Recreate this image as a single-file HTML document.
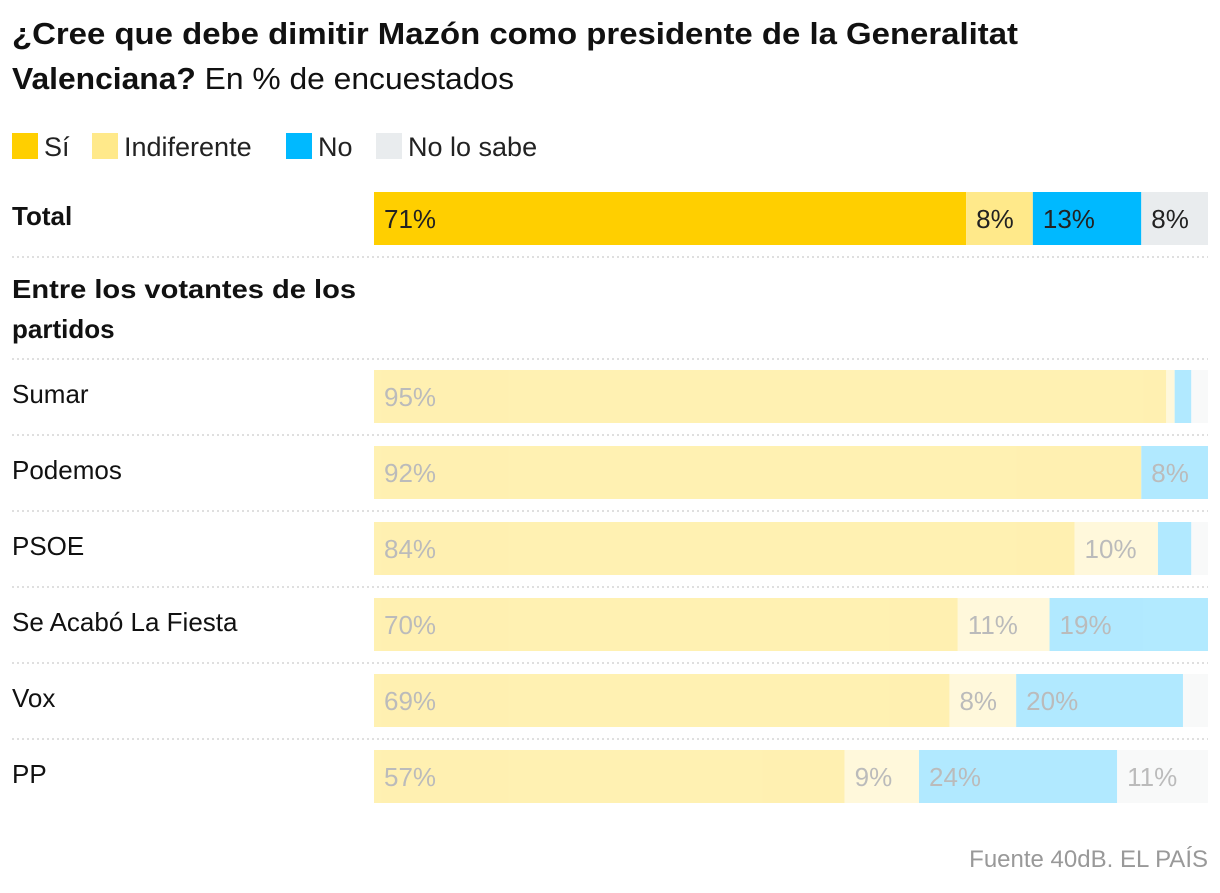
<!DOCTYPE html>
<html><head><meta charset="utf-8"><style>
body{margin:0;background:#fff;font-family:"Liberation Sans",sans-serif;color:#111;}
svg text{font-family:"Liberation Sans",sans-serif;}
</style></head><body>
<svg id="chart" width="1220" height="888" xmlns="http://www.w3.org/2000/svg">
<text x="12" y="44" font-size="31" font-weight="bold" fill="#111" textLength="1006" lengthAdjust="spacingAndGlyphs">¿Cree que debe dimitir Mazón como presidente de la Generalitat</text>
<text x="12" y="89" font-size="31" fill="#111" textLength="502" lengthAdjust="spacingAndGlyphs"><tspan font-weight="bold">Valenciana?</tspan> En % de encuestados</text>
<g id="legend"></g>
<g id="rows"></g>
<text x="1208" y="867" font-size="24" fill="#999" text-anchor="end">Fuente 40dB. EL PAÍS</text>
</svg>
<script>
const seriesNames=["Sí","Indiferente","No","No lo sabe"];
const colors=["#ffcf00","#ffe98a","#00b9ff","#e9ecee"];
const categories=["Total","Sumar","Podemos","PSOE","Se Acabó La Fiesta","Vox","PP"];
const si=[71,95,92,84,70,69,57];
const indif=[8,1,0,10,11,8,9];
const no=[13,2,8,4,19,20,24];
const nosabe=[8,2,0,2,0,3,11];
const rowY=[192,370,446,522,598,674,750];
const NS="http://www.w3.org/2000/svg";
const svg=document.getElementById('chart');
const leg=document.getElementById('legend');
const rows=document.getElementById('rows');
function mk(tag,attrs,parent){const e=document.createElementNS(NS,tag);for(const k in attrs)e.setAttribute(k,attrs[k]);parent.appendChild(e);return e;}
const legX=[12,92,286,376];
seriesNames.forEach((n,i)=>{
  const r=mk('rect',{x:legX[i],y:133,width:26,height:26,fill:colors[i]},leg);
  
  
  const t=mk('text',{x:legX[i]+32,y:156,'font-size':27,fill:'#222'},leg);
  t.textContent=n;
  
  
});
const x0=374,W=834;
function xs(v,tot){return v/tot*W;}
[257,359,435,511,587,663,739].forEach(y=>{
  const l=mk('line',{x1:12,x2:1208,y1:y,y2:y,stroke:'#ccc','stroke-width':1.2,'stroke-dasharray':'2,3'},rows);
  
  
});
const gh=mk('text',{x:12,y:298,'font-size':26,'font-weight':'bold',fill:'#111'},rows);
gh.innerHTML='<tspan x="12" textLength="344" lengthAdjust="spacingAndGlyphs">Entre los votantes de los</tspan><tspan x="12" dy="40">partidos</tspan>';


categories.forEach((c,i)=>{
  const y=rowY[i];
  const lab=mk('text',{x:12,y:y+33,'font-size':26,'font-weight':i==0?'bold':'normal',fill:'#111'},rows);
  lab.textContent=c;
  
  
  const g=mk('g',{opacity:i==0?1:0.3},rows);
  
  
  const vals=[si[i],indif[i],no[i],nosabe[i]];
  const tot=vals.reduce((a,b)=>a+b,0);
  let cx=x0;
  vals.forEach((v,j)=>{
    const w=xs(v,tot);
    if(w<=0)return;
    const r=mk('rect',{x:cx,y:y,width:w,height:53,fill:colors[j]},g);
    
    
    if(v>=5){
      const t=mk('text',{x:cx+10,y:y+36,'font-size':26,fill:'#222'},g);
      t.textContent=v+'%';
      
      
    }
    cx+=w;
  });
});
</script>
</body></html>
